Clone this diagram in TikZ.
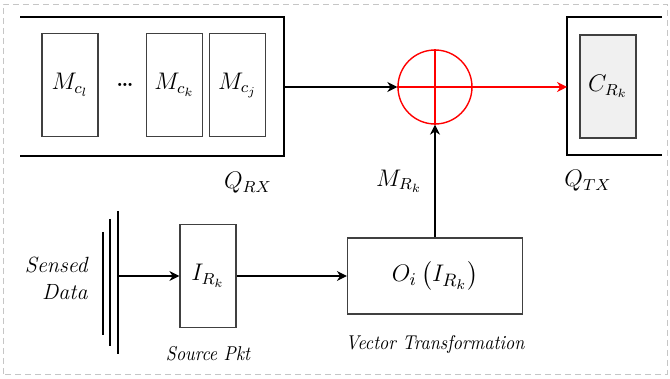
\documentclass[tikz,border=0pt]{standalone}
\usepackage{amsmath}
\usepackage{graphicx}
\usetikzlibrary{arrows.meta,positioning,calc}

\newcommand{\narrowtext}[1]{\scalebox{0.9}[1]{#1}}

\begin{document}
\begin{tikzpicture}[
    x=0.5pt, y=0.5pt,
    cell/.style={rectangle, draw=black!75, line width=0.6pt, minimum width=28pt,
                 minimum height=51.5pt, inner sep=0pt, font=\large},
    queue/.style={line width=0.9pt, color=black},
    arrow/.style={-{Stealth[length=5pt, width=5pt, inset=1.6pt]}, line width=0.6pt},
    redarrow/.style={arrow, color=red},
    lbl/.style={font=\itshape, inner sep=1pt},
]

% ── frame ─────────────────────────────────────────────
\useasboundingbox (0,0) rectangle (670,379);
\draw[gray!45, densely dashed, line width=0.4pt] (3,5) rectangle (667,375);

% ── receive queue ─────────────────────────────────────
\draw[queue] (20,362) -- (284,362) -- (284,223) -- (20,223);
\node[cell] (mcl) at (70,294)    {$M_{c_l}$};
\node[cell] (mck) at (174.5,294) {$M_{c_k}$};
\node[cell] (mcj) at (237.5,294) {$M_{c_j}$};
\node (dots) at (125,294) {\textbf{\dots}};
\node[font=\large] (qrx) at (248,196) {$Q_{RX}$};
\coordinate (qrxout) at (284,292);

% ── adder ─────────────────────────────────────────────
\node[circle, draw=red, line width=0.7pt, minimum size=37pt, inner sep=0pt] (sum) at (435,292) {};
\draw[red, line width=0.7pt] (sum.north) -- (sum.south);
\draw[red, line width=0.7pt] (sum.west) -- (sum.east);

% ── transmit queue ────────────────────────────────────
\draw[queue] (662,362) -- (567,362) -- (567,224) -- (662,224);
\node[cell, fill=gray!12] (crk) at (608,292.5) {$C_{R_k}$};
\node[font=\large] (qtx) at (588,198) {$Q_{TX}$};
\coordinate (qtxin) at (567,292);

% ── source side ───────────────────────────────────────
\draw[line width=0.9pt] (103,147) -- (103,44);
\draw[line width=0.9pt] (110,160) -- (110,33);
\draw[line width=0.9pt] (118,168) -- (118,25);
\coordinate (sensout) at (118,103);
\node[lbl, align=right, anchor=east, font=\fontsize{11}{13.5}\selectfont\itshape] (sensed) at (90,101) {Sensed\\Data};

\node[cell] (irk) at (208,103) {$I_{R_k}$};
\node[lbl, below=8pt of irk] (srcpkt) {\narrowtext{Source Pkt}};

\node[rectangle, draw=black!75, line width=0.6pt, minimum width=87.5pt,
      minimum height=38pt, font=\fontsize{13.2}{15}\selectfont] (oi) at (435,103) {$O_i\left(I_{R_k}\right)$};
\node[lbl, below=9pt of oi] (vtrans) {\narrowtext{Vector Transformation}};

% ── connectors ────────────────────────────────────────
\draw[arrow] (qrxout) -- (sum.west);
\draw[redarrow] (sum.east) -- (qtxin);
\draw[arrow] (sensout) -- (irk.west);
\draw[arrow] (irk.east) -- (oi.west);
\draw[arrow] (oi.north) -- (sum.south);
\node[left=3pt of $(oi.north)!0.5!(sum.south)$, font=\large] (mrk) {$M_{R_k}$};

\end{tikzpicture}
\end{document}
